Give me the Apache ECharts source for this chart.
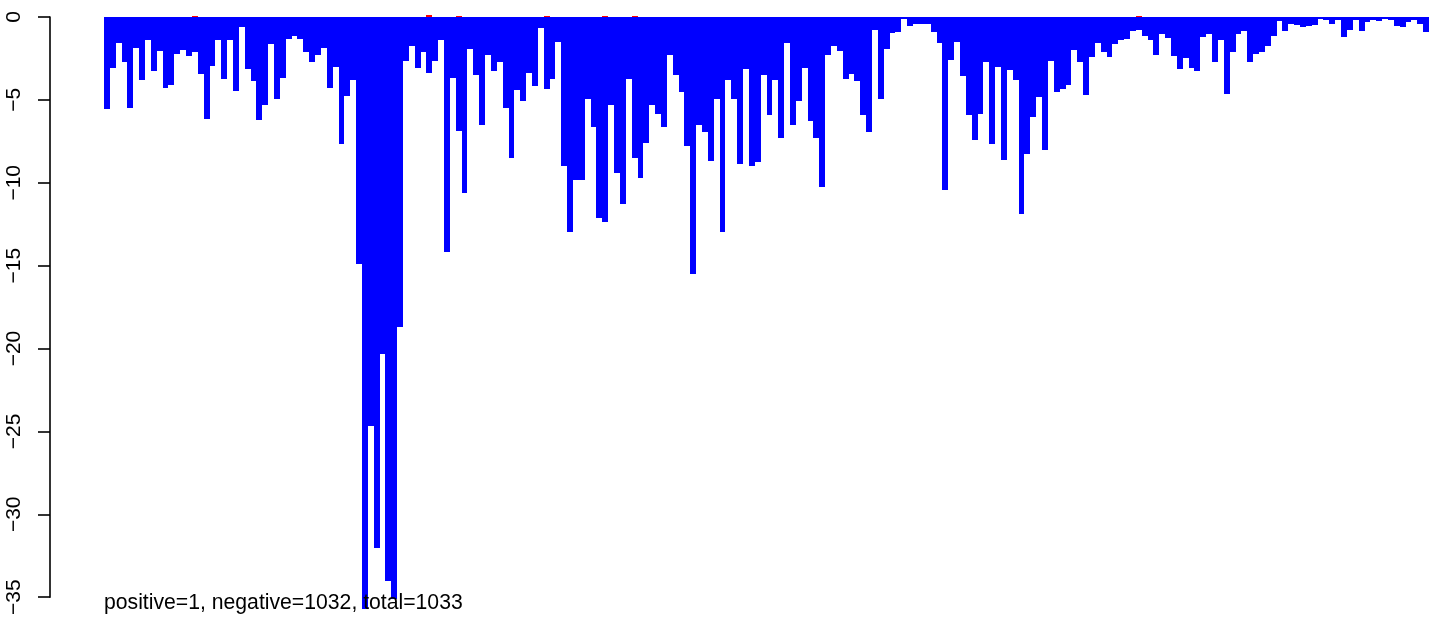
<!DOCTYPE html>
<html>
<head>
<meta charset="utf-8">
<script src="https://cdn.jsdelivr.net/npm/echarts@6/dist/echarts.min.js"></script>
<style>
html, body { margin: 0; padding: 0; background: #fff; }
#chart { width: 1429px; height: 618px; }
</style>
</head>
<body>
<div id="chart"></div>
<script>
// Negative (blue) column values, one per column, left to right
var negValues = [
  -5.56, -3.06, -1.56, -2.74, -5.46, -1.86, -3.78, -1.38, -3.28, -2.04,
  -4.26, -4.08, -2.22, -1.98, -2.34, -2.10, -3.42, -6.18, -2.94, -1.38,
  -3.72, -1.38, -4.44, -0.60, -3.12, -3.84, -6.24, -5.28, -1.62, -4.92,
  -3.66, -1.32, -1.14, -1.32, -2.10, -2.70, -2.28, -1.86, -4.26, -3.00,
  -7.68, -4.74, -3.78, -14.93, -35.7, -24.7, -32.05, -20.3, -34.0, -35.1,
  -18.7, -2.68, -1.74, -3.10, -2.10, -3.40, -2.64, -1.38, -14.2, -3.66,
  -6.88, -10.6, -1.92, -3.48, -6.52, -2.28, -3.28, -2.70, -5.50, -8.50,
  -4.42, -5.08, -3.36, -4.18, -0.66, -4.36, -3.72, -1.50, -8.98, -12.95,
  -9.82, -9.82, -4.96, -6.64, -12.1, -12.35, -5.32, -9.40, -11.27, -3.72,
  -8.50, -9.70, -7.60, -5.32, -5.86, -6.64, -2.28, -3.52, -4.54, -7.78,
  -15.53, -6.52, -6.94, -8.68, -4.96, -13.0, -3.82, -4.96, -8.87, -3.12,
  -8.98, -8.75, -3.48, -5.92, -3.78, -7.30, -1.56, -6.52, -5.08, -3.06,
  -6.28, -7.30, -10.25, -2.28, -1.74, -2.04, -3.76, -3.42, -3.88, -5.92,
  -6.94, -0.78, -4.96, -1.92, -0.96, -0.90, -0.12, -0.52, -0.42, -0.42,
  -0.42, -0.90, -1.56, -10.43, -2.58, -1.50, -3.54, -5.92, -7.42, -5.86,
  -2.74, -7.66, -3.00, -8.62, -3.18, -3.78, -11.87, -8.26, -6.04, -4.84,
  -8.02, -2.64, -4.54, -4.36, -4.12, -1.98, -2.70, -4.72, -2.40, -1.56,
  -2.10, -2.44, -1.62, -1.38, -1.32, -0.84, -0.78, -1.14, -1.38, -2.28,
  -1.02, -1.26, -2.34, -3.12, -2.46, -3.06, -3.28, -1.20, -1.02, -2.74,
  -1.38, -4.62, -2.10, -1.02, -0.84, -2.70, -2.22, -2.10, -1.74, -1.14,
  -0.24, -0.84, -0.42, -0.48, -0.58, -0.52, -0.46, -0.12, -0.18, -0.42,
  -0.18, -1.18, -0.78, -0.18, -0.82, -0.30, -0.18, -0.24, -0.14, -0.18,
  -0.52, -0.58, -0.30, -0.18, -0.42, -0.88
];
// Positive (red) columns (1-based column number) and their values
var posColumns = [16, 56, 61, 76, 86, 91, 177];
var posValues  = [0.08, 0.12, 0.06, 0.06, 0.06, 0.06, 0.06];
// Y axis ticks
var yTicks = [0, -5, -10, -15, -20, -25, -30, -35];
var summaryText = 'positive=1, negative=1032, total=1033';

var categories = negValues.map(function (v, i) { return String(i + 1); });
var negData = negValues.map(function (v, i) { return [i, v]; });
var posData = posColumns.map(function (c, k) { return [c - 1, posValues[k]]; });

// Bars drawn through the axis scales, snapped to whole pixels (like the R device)
function makeBarRenderer(color) {
  return function (params, api) {
    var idx = api.value(0);
    var val = api.value(1);
    var center = api.coord([idx, 0]);
    var valPt = api.coord([idx, val]);
    var band = api.size([1, 0])[0];
    var x0 = Math.round(center[0] - band / 2);
    var x1 = Math.round(center[0] + band / 2);
    var y0 = Math.round(center[1]);
    var y1 = Math.round(valPt[1]);
    var top = Math.min(y0, y1), h = Math.abs(y1 - y0);
    if (h < 1 && val !== 0) { h = 1; if (val > 0) top = y0 - 1; }
    return {
      type: 'rect',
      shape: { x: x0, y: top, width: x1 - x0, height: h },
      style: { fill: color }
    };
  };
}

var fontFam = '"Liberation Sans", Arial, Helvetica, sans-serif';
var chart = echarts.init(document.getElementById('chart'), null, { renderer: 'canvas' });
chart.setOption({
  animation: false,
  backgroundColor: '#ffffff',
  title: {
    text: summaryText,
    left: 104,
    top: 593,
    padding: 0,
    textStyle: { fontFamily: fontFam, fontSize: 21.2, fontWeight: 'normal', color: '#000' }
  },
  grid: { left: 104, right: -3, top: 17, bottom: 18, containLabel: false },
  xAxis: {
    type: 'category',
    data: categories,
    show: false,
    boundaryGap: true
  },
  yAxis: {
    type: 'value',
    position: 'left',
    offset: 54,
    min: yTicks[yTicks.length - 1],
    max: yTicks[0],
    interval: 5,
    axisLine: { show: true, lineStyle: { color: '#000', width: 1.6 } },
    axisTick: { show: true, length: 12, lineStyle: { color: '#000', width: 1.6 } },
    splitLine: { show: false },
    axisLabel: {
      rotate: 90,
      margin: 25,
      fontSize: 21,
      fontFamily: fontFam,
      color: '#000',
      formatter: function (v) { return String(v).replace('-', '\u2212'); }
    }
  },
  series: [
    {
      type: 'custom', name: 'negative', data: negData,
      encode: { x: 0, y: 1 }, clip: false,
      renderItem: makeBarRenderer('#0000FF')
    },
    {
      type: 'custom', name: 'positive', data: posData,
      encode: { x: 0, y: 1 }, clip: false,
      renderItem: makeBarRenderer('#FF0000')
    }
  ]
});
</script>
</body>
</html>
